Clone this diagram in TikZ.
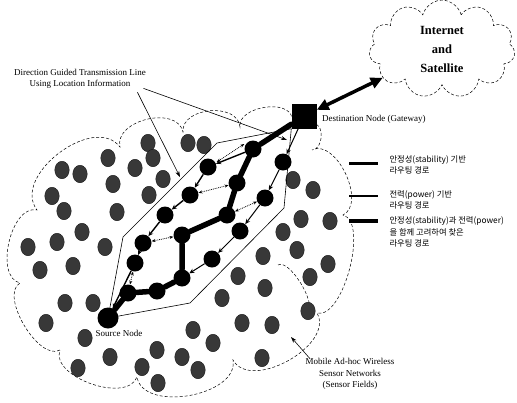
\documentclass[tikz,border=0pt]{standalone}
\usepackage{fontspec}
\setmainfont{Liberation Serif}
\newfontfamily\kr{Noto Sans CJK KR}
\usetikzlibrary{positioning,shapes.geometric,shapes.symbols,arrows.meta}

\begin{document}
\begin{tikzpicture}[x=1pt, y=-1pt,
  sensor/.style={ellipse,fill=black!78,draw=black!90,inner sep=0pt,minimum width=14.5pt,minimum height=17.5pt},
  hop/.style={circle,fill=black,inner sep=0pt,minimum size=17pt},
  gateway/.style={rectangle,fill=black,inner sep=0pt,minimum size=25pt},
  combpath/.style={line width=5.5pt,line cap=round},
  stabpath/.style={line width=1.4pt,-{Stealth[length=5pt,width=4.5pt]}},
  powpath/.style={line width=1pt,-{Stealth[length=5pt,width=4.5pt]}},
  probe/.style={densely dotted,line width=0.8pt,{Stealth[length=4pt]}-{Stealth[length=4pt]}},
  edge/.style={line width=0.6pt},
  pointer/.style={line width=0.6pt,-{Stealth[length=6pt,width=4pt]}},
  fieldline/.style={densely dashed,line width=0.5pt},
  lbl/.style={font=\fontsize{9}{11.5}\selectfont,align=center},
  krlbl/.style={font=\kr\fontsize{8.3}{11.5}\selectfont,align=left,anchor=west},
  ]
\useasboundingbox (0,0) rectangle (517,402);

% sensor field
\draw[fieldline] (60,350) .. controls (39,362) and (-1,295) .. (20,283)
  .. controls (-6,277) and (11,204) .. (37,210)
  .. controls (11,176) and (94,113) .. (120,147)
  .. controls (114,120) and (177,105) .. (183,132)
  .. controls (181,107) and (238,102) .. (240,127)
  .. controls (237,107) and (289,98) .. (292,118)
  -- (314,124)
  .. controls (325,124) and (323,150) .. (312,150)
  .. controls (336,138) and (367,203) .. (343,215)
  .. controls (369,222) and (343,320) .. (317,313)
  .. controls (335,345) and (251,392) .. (233,360)
  .. controls (239,396) and (143,413) .. (137,377)
  .. controls (127,404) and (50,377) .. (60,350);
\draw[fieldline] (278,265) .. controls (289,258) and (318,305) .. (307,312);

\foreach \x/\y [count=\i] in {148/143,153/158,188/143,204/145,108/158,135/168,163/179,
  62/170,80/174,113/184,149/195,52/196,64/211,117/212,82/232,57/242,28/247,105/247,
  40/270,73/266,65/303,93/303,46/323,85/338,110/357,78/368,142/367,158/383,157/350,
  182/357,198/370,193/330,213/343,222/298,238/276,265/288,242/323,272/325,262/358,
  263/256,293/180,313/190,301/219,330/221,283/232,297/250,328/264,310/277,308/311}
  \node[sensor] (s\i) at (\x,\y) {};

% internet cloud
\node[cloud, draw, fieldline, cloud puffs=11, aspect=1.6, minimum width=146pt,
  minimum height=92pt, font=\bfseries\fontsize{12.5}{19}\selectfont, align=center]
  (inet) at (442,49) {Internet\\and\\Satellite};

% route nodes
\node[gateway] (D) at (304,116) {};
\node[hop, minimum size=21pt] (S) at (108,318) {};
\node[hop] (a) at (128,293) {};
\node[hop] (b) at (157,291) {};
\node[hop] (c) at (182,278) {};
\node[hop] (d) at (135,263) {};
\node[hop] (e) at (143,243) {};
\node[hop] (f) at (182,235) {};
\node[hop] (g) at (212,259) {};
\node[hop] (h) at (240,231) {};
\node[hop] (i) at (165,215) {};
\node[hop] (j) at (227,215) {};
\node[hop] (k) at (190,195) {};
\node[hop] (l) at (237,183) {};
\node[hop] (m) at (265,198) {};
\node[hop] (n) at (208,167) {};
\node[hop] (o) at (283,162) {};
\node[hop] (p) at (253,149) {};

% transmission area
\coordinate (hx1) at (190,303);
\coordinate (hx2) at (284,208);
\coordinate (hx4) at (217,143);
\coordinate (hx5) at (123,237);
\draw[edge] (S.center) -- (hx1) -- (hx2) -- (D.south west) -- (hx4) -- (hx5) -- cycle;

% routes
\draw[combpath] (S) -- (a) -- (b) -- (c) -- (f) -- (j) -- (l) -- (p) -- (D);
\draw[stabpath] (d) -- (S);
\draw[stabpath] (e) -- (d);
\draw[stabpath] (i) -- (e);
\draw[stabpath] (k) -- (i);
\draw[stabpath] (n) -- (k);
\draw[stabpath] (p) -- (n);
\draw[powpath] (g) -- (c);
\draw[powpath] (h) -- (g);
\draw[powpath] (m) -- (h);
\draw[powpath] (o) -- (m);
\draw[powpath] (D) -- (o);
\draw[probe] (d) -- (a);
\draw[probe] (e) -- (f);
\draw[probe] (k) -- (l);
\draw[probe] (j) -- (m);
\draw[probe] ([yshift=5pt]n.east) -- ([yshift=5pt]p.west);

% gateway link
\draw[line width=3.5pt, {Triangle[length=12pt,width=11pt]}-{Triangle[length=12pt,width=11pt]}]
  (D) -- (inet);

% labels
\node[lbl] (srclbl) at (119,333) {Source Node};
\node[lbl, right=2pt of D, yshift=-3pt] (dstlbl) {Destination Node (Gateway)};
\node[lbl] (dgl) at (80,79) {Direction Guided Transmission Line\\Using Location Information};
\coordinate (dg1) at (180,177);
\coordinate (dg2) at (287,140);
\draw[pointer] ([xshift=-12pt]dgl.south east) -- (dg1);
\draw[pointer] ([xshift=-6pt,yshift=4pt]dgl.south east) -- (dg2);

\node[lbl] (mobile) at (350,374) {Mobile Ad-hoc Wireless\\Sensor Networks\\(Sensor Fields)};
\coordinate (mtip) at (291,337);
\draw[pointer] ([xshift=8pt,yshift=-4pt]mobile.north west) -- (mtip);

% legend
\node[krlbl] (key1) at (386,165) {안정성(stability) 기반\\라우팅 경로};
\node[krlbl] (key2) at (386,200) {전력(power) 기반\\라우팅 경로};
\node[krlbl] (key3) at (386,232) {안정성(stability)과 전력(power)\\을 함께 고려하여 찾은\\라우팅 경로};
\coordinate (k1a) at (349,163);
\coordinate (k1b) at (378,163);
\coordinate (k2a) at (349,196);
\coordinate (k2b) at (378,196);
\coordinate (k3a) at (349,221);
\coordinate (k3b) at (378,221);
\draw[line width=3pt] (k1a) -- (k1b);
\draw[line width=2pt] (k2a) -- (k2b);
\draw[line width=4.5pt] (k3a) -- (k3b);

\end{tikzpicture}
\end{document}
